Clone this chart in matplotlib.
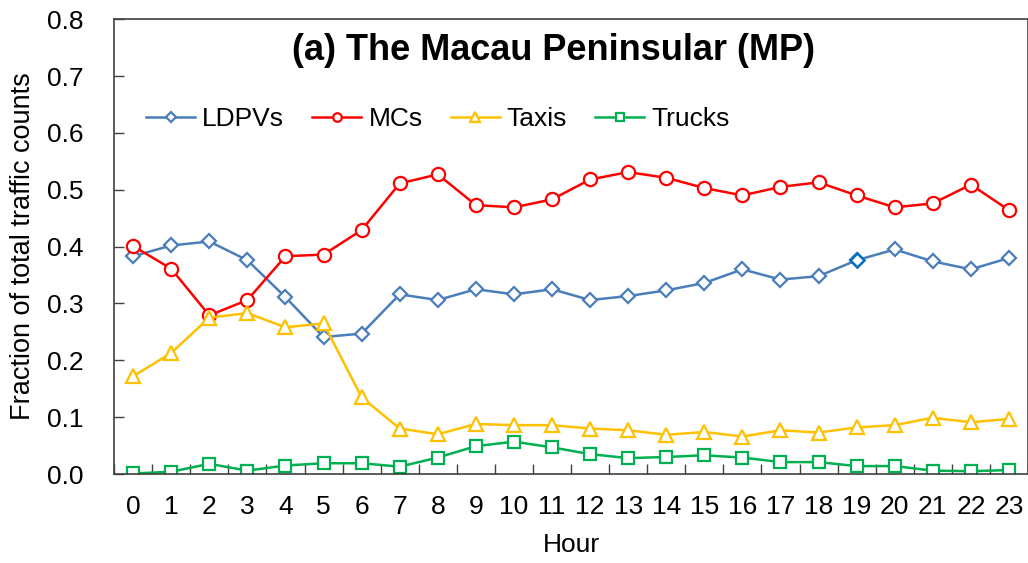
import matplotlib.pyplot as plt
import numpy as np
from matplotlib.ticker import MultipleLocator, FixedLocator

plt.rcParams['font.family'] = ['Liberation Sans', 'DejaVu Sans']

# hours of the day
hours = list(range(24))

# fraction of total traffic counts
ldpvs = [0.383, 0.402, 0.409, 0.376, 0.311, 0.241, 0.247, 0.316, 0.306, 0.325, 0.316, 0.325,
         0.306, 0.313, 0.323, 0.336, 0.360, 0.342, 0.348, 0.376, 0.395, 0.374, 0.360, 0.380]
mcs = [0.401, 0.361, 0.279, 0.306, 0.383, 0.386, 0.429, 0.511, 0.527, 0.473, 0.469, 0.483,
       0.518, 0.531, 0.521, 0.503, 0.490, 0.505, 0.513, 0.490, 0.469, 0.476, 0.509, 0.464]
taxis = [0.172, 0.213, 0.275, 0.283, 0.258, 0.265, 0.135, 0.080, 0.070, 0.088, 0.086, 0.086,
         0.080, 0.077, 0.069, 0.074, 0.066, 0.077, 0.073, 0.082, 0.086, 0.099, 0.091, 0.097]
trucks = [0.001, 0.004, 0.018, 0.006, 0.015, 0.019, 0.019, 0.013, 0.029, 0.049, 0.057, 0.047,
          0.035, 0.028, 0.030, 0.033, 0.029, 0.021, 0.021, 0.014, 0.014, 0.006, 0.005, 0.007]

fig = plt.figure(figsize=(10.28, 5.63), dpi=100)
ax = fig.add_axes([0.111, 0.158, 0.889, 0.808])

series = [
    ('LDPVs', ldpvs, '#4A7EBB', 'D', 7.5),
    ('MCs', mcs, '#FF0000', 'o', 9.5),
    ('Taxis', taxis, '#FFC000', '^', 10),
    ('Trucks', trucks, '#00B050', 's', 9),
]
for name, vals, col, mk, ms in series:
    ax.plot(hours, vals, color=col, lw=1.8, marker=mk, ms=ms, mfc='white',
            mec=col, mew=1.6, label=name)

# one point drawn in a darker blue in the original
ax.plot(hours[19], ldpvs[19], marker='D', ms=7.5, mfc='white', mec='#0070C0', mew=1.8,
        ls='none')

ax.set_xlim(-0.5, 23.5)
ax.set_ylim(0, 0.8)
ax.yaxis.set_major_locator(MultipleLocator(0.1))
ax.yaxis.set_major_formatter(plt.FormatStrFormatter('%.1f'))
ax.set_xticks(hours)
ax.xaxis.set_minor_locator(FixedLocator(np.arange(-0.5, 24, 1)))
ax.tick_params(axis='x', which='major', length=0, pad=15, labelsize=19)
ax.tick_params(axis='x', which='minor', direction='in', length=7, width=1, color='#404040')
ax.tick_params(axis='y', which='major', direction='in', length=7, width=1,
               color='#404040', labelsize=19, pad=22)

for sp in ax.spines.values():
    sp.set_color('#404040')
    sp.set_linewidth(1.2)

ax.set_xlabel('Hour', fontsize=19, labelpad=10)
ax.set_ylabel('Fraction of total traffic counts', fontsize=19.5, labelpad=8)

ax.text(0.481, 0.93, '(a) The Macau Peninsular (MP)', transform=ax.transAxes,
        ha='center', va='center', fontsize=26, fontweight='bold')

ax.legend(loc='center left', bbox_to_anchor=(0.035, 0.78), ncol=4, frameon=False,
          fontsize=19, handlelength=1.86, handletextpad=0.27, columnspacing=1.06,
          markerscale=0.65, borderpad=0, borderaxespad=0)

fig.savefig('out.png', dpi=100)
